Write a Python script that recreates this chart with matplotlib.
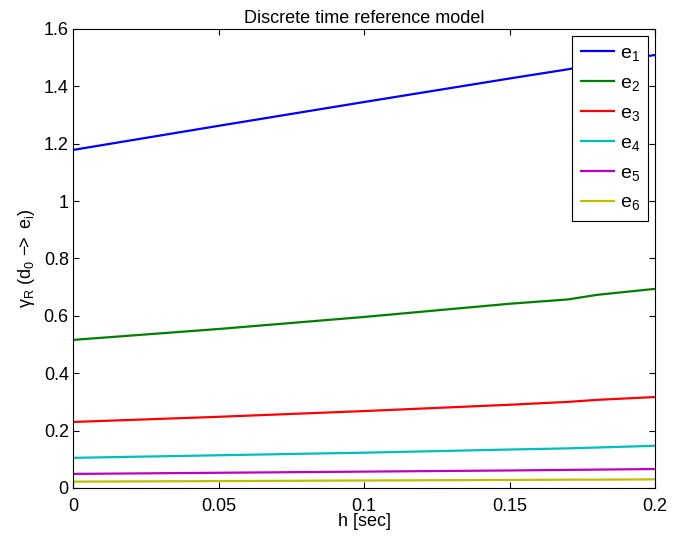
import matplotlib
matplotlib.use("Agg")
import matplotlib.pyplot as plt

plt.rcParams["font.family"] = ["Liberation Sans", "DejaVu Sans"]
plt.rcParams["mathtext.fontset"] = "custom"
plt.rcParams["mathtext.rm"] = "Liberation Sans"
plt.rcParams["mathtext.it"] = "Liberation Sans"

# sampling times [sec]
h = [0.0, 0.05, 0.1, 0.15, 0.17, 0.18, 0.2]

# gamma_R(d0 -> e_i) per error signal
e1 = [1.178, 1.262, 1.345, 1.427, 1.459, 1.478, 1.509]
e2 = [0.516, 0.554, 0.596, 0.642, 0.657, 0.673, 0.694]
e3 = [0.230, 0.248, 0.268, 0.290, 0.300, 0.307, 0.317]
e4 = [0.105, 0.114, 0.123, 0.134, 0.138, 0.141, 0.147]
e5 = [0.049, 0.053, 0.057, 0.061, 0.063, 0.064, 0.066]
e6 = [0.022, 0.024, 0.026, 0.028, 0.029, 0.029, 0.030]

series = [e1, e2, e3, e4, e5, e6]
labels = [r"e$_{%d}$" % (i + 1) for i in range(6)]
colors = ["#0000ff", "#008000", "#ff0000", "#00bfbf", "#bf00bf", "#bfbf00"]

fig = plt.figure(figsize=(6.89, 5.37), dpi=100)
ax = fig.add_axes([0.106, 0.0913, 0.845, 0.855])

for y, lab, c in zip(series, labels, colors):
    ax.plot(h, y, color=c, linewidth=1.6, label=lab)

ax.set_xlim(0, 0.2)
ax.set_ylim(0, 1.6)
ax.set_xticks([0, 0.05, 0.1, 0.15, 0.2])
ax.set_xticklabels(["0", "0.05", "0.1", "0.15", "0.2"])
ax.set_yticks([0, 0.2, 0.4, 0.6, 0.8, 1.0, 1.2, 1.4, 1.6])
ax.set_yticklabels(["0", "0.2", "0.4", "0.6", "0.8", "1", "1.2", "1.4", "1.6"])
ax.tick_params(direction="in", length=4, labelsize=13, top=True, right=True)
ax.tick_params(axis="x", pad=7)
ax.tick_params(axis="y", pad=3)
for s in ax.spines.values():
    s.set_linewidth(0.8)

ax.set_title("Discrete time reference model", fontsize=13, pad=4)
ax.set_xlabel("h [sec]", fontsize=13, labelpad=-1)
ax.set_ylabel(r"$\gamma_R$ (d$_0$ $-\!\!>$ e$_i$)", fontsize=13, labelpad=5)

leg = ax.legend(loc="upper right", fontsize=14, handlelength=1.7,
                labelspacing=0.58, borderaxespad=0.35, borderpad=0.45,
                fancybox=False, framealpha=1, edgecolor="black",
                handletextpad=0.3)
leg.get_frame().set_linewidth(0.8)

fig.savefig("out.png", dpi=100)
